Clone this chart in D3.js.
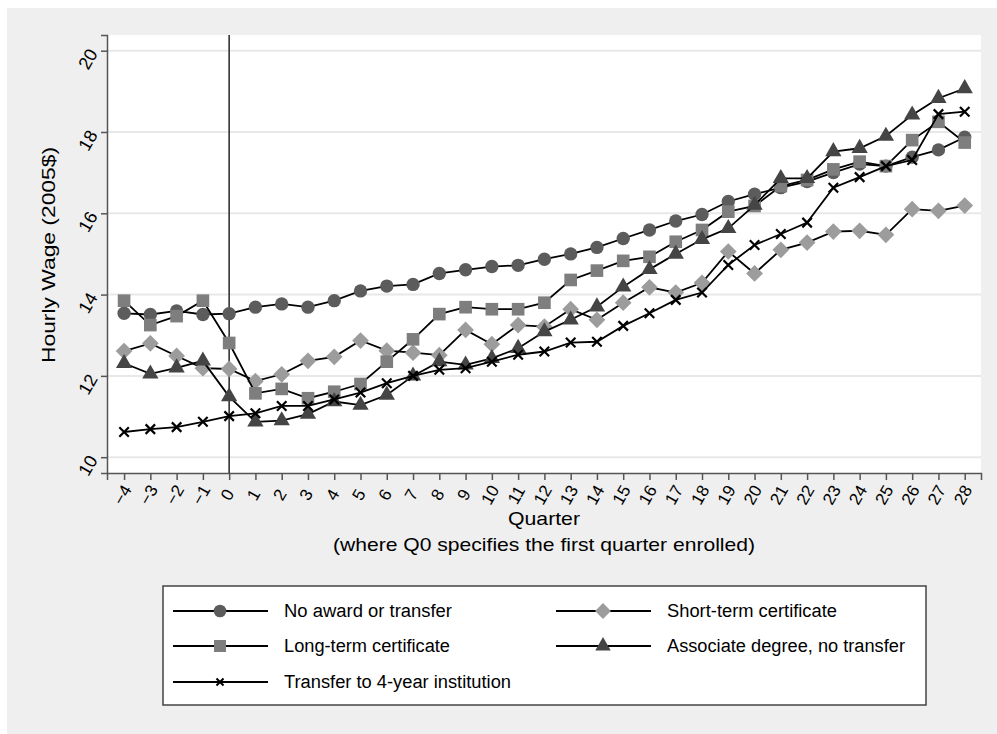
<!DOCTYPE html>
<html>
<head>
<meta charset="utf-8">
<script src="https://cdn.jsdelivr.net/npm/d3@7"></script>
<style>
  body { margin: 0; background: #fff; }
  text { font-family: "Liberation Sans", Arial, sans-serif; fill: #000; }
</style>
</head>
<body>
<svg id="vis-salarios"></svg>
<script>
// dados
const quarters = [-4, -3, -2, -1, 0, 1, 2, 3, 4, 5, 6, 7, 8, 9, 10, 11, 12, 13, 14, 15, 16, 17, 18, 19, 20, 21, 22, 23, 24, 25, 26, 27, 28];

const no_award = [13.54, 13.51, 13.60, 13.51, 13.53, 13.69, 13.77, 13.69, 13.85, 14.09, 14.21, 14.25, 14.52, 14.61, 14.69, 14.72,
                  14.87, 15.00, 15.16, 15.38, 15.59, 15.81, 15.97, 16.29, 16.47, 16.63, 16.78, 17.00, 17.21, 17.16, 17.38, 17.56, 17.87];
const short_term = [12.61, 12.80, 12.49, 12.19, 12.17, 11.87, 12.04, 12.37, 12.47, 12.87, 12.62, 12.57, 12.51, 13.13, 12.78, 13.25,
                    13.21, 13.64, 13.38, 13.80, 14.18, 14.05, 14.29, 15.06, 14.52, 15.10, 15.28, 15.55, 15.57, 15.47, 16.10, 16.06, 16.19];
const long_term = [13.85, 13.25, 13.47, 13.85, 12.81, 11.57, 11.68, 11.45, 11.61, 11.80, 12.35, 12.90, 13.52, 13.69, 13.64, 13.64,
                   13.80, 14.36, 14.59, 14.83, 14.93, 15.30, 15.59, 16.04, 16.18, 16.67, 16.82, 17.08, 17.27, 17.16, 17.80, 18.25, 17.74];
const associate = [12.31, 12.05, 12.20, 12.37, 11.49, 10.87, 10.90, 11.06, 11.37, 11.28, 11.53, 12.00, 12.35, 12.27, 12.43, 12.68,
                   13.09, 13.38, 13.70, 14.19, 14.62, 15.00, 15.36, 15.63, 16.20, 16.86, 16.86, 17.52, 17.60, 17.90, 18.42, 18.83, 19.07];
const transfer = [10.62, 10.69, 10.74, 10.87, 11.01, 11.08, 11.26, 11.26, 11.42, 11.59, 11.82, 12.00, 12.15, 12.19, 12.35, 12.52,
                  12.60, 12.82, 12.84, 13.23, 13.54, 13.87, 14.05, 14.73, 15.22, 15.49, 15.77, 16.63, 16.89, 17.16, 17.31, 18.44, 18.50];

const y_ticks = [10, 12, 14, 16, 18, 20];
const series_names = ["No award or transfer", "Short-term certificate", "Long-term certificate",
                      "Associate degree, no transfer", "Transfer to 4-year institution"];

// símbolo "x" do Stata
const symbolCross = {
  draw(ctx, size) {
    const r = Math.sqrt(size) / 2;
    ctx.moveTo(-r, -r); ctx.lineTo(r, r);
    ctx.moveTo(r, -r); ctx.lineTo(-r, r);
  }
};

// estilos de cada série
const estilos = [
  { type: d3.symbolCircle,   size: 140, fill: "#5c5c5c", rot: 0 },
  { type: d3.symbolSquare,   size: 140, fill: "#9c9c9c", rot: 45 },
  { type: d3.symbolSquare,   size: 160, fill: "#7e7e7e", rot: 0 },
  { type: d3.symbolTriangle, size: 115, fill: "#454545", rot: 0 },
  { type: symbolCross,       size: 90,  fill: "none",    rot: 0 }
];

const w = 997, h = 734;
const margin = { top: 35, bottom: 261, left: 107, right: 16 };

const $svg = d3.select('#vis-salarios')
  .attr('width', w)
  .attr('height', h);

// fundo cinza
$svg.append('rect')
  .attr('x', 7).attr('y', 8)
  .attr('width', w - 7).attr('height', h - 8)
  .attr('fill', '#efefef');

// área do gráfico
$svg.append('rect')
  .attr('x', margin.left).attr('y', margin.top)
  .attr('width', w - margin.left - margin.right)
  .attr('height', h - margin.top - margin.bottom)
  .attr('fill', '#fff');

const x = d3.scaleLinear()
  .domain([-4.65, 28.62])
  .range([margin.left, w - margin.right]);

const y = d3.scaleLinear()
  .domain([9.611, 20.386])
  .range([h - margin.bottom, margin.top]);

// grade
$svg.append('g')
  .selectAll('line')
  .data(y_ticks)
  .enter().append('line')
  .attr('x1', margin.left).attr('x2', w - margin.right)
  .attr('y1', d => y(d)).attr('y2', d => y(d))
  .attr('stroke', '#e8e8e8')
  .attr('stroke-width', 2);

// eixo y
const eixo_y = $svg.append('g')
  .attr('transform', `translate(${margin.left},0)`)
  .call(d3.axisLeft(y).tickValues(y_ticks).tickSize(6).tickFormat(d3.format('d')));
eixo_y.select('.domain').attr('stroke', '#555').attr('stroke-width', 1.5);
eixo_y.selectAll('.tick line').attr('stroke', '#555').attr('stroke-width', 1.5);
eixo_y.selectAll('.tick text')
  .attr('x', 0).attr('dy', null)
  .attr('text-anchor', 'middle')
  .attr('dominant-baseline', 'central')
  .attr('transform', 'translate(-19,8) rotate(-60)')
  .style('font-size', '18px')
  .style('font-family', '"Liberation Sans", Arial, sans-serif');

// eixo x
const eixo_x = $svg.append('g')
  .attr('transform', `translate(0,${h - margin.bottom})`)
  .call(d3.axisBottom(x).tickValues(quarters).tickSize(7).tickFormat(d3.format('d')));
eixo_x.select('.domain').attr('stroke', '#555').attr('stroke-width', 1.5);
eixo_x.selectAll('.tick line').attr('stroke', '#555').attr('stroke-width', 1.5);
eixo_x.selectAll('.tick text')
  .attr('y', 0).attr('dy', null)
  .attr('text-anchor', 'middle')
  .attr('dominant-baseline', 'central')
  .attr('transform', 'translate(-2,22) rotate(-60)')
  .style('font-size', '17px')
  .style('font-family', '"Liberation Sans", Arial, sans-serif');

// linha vertical em Q0
$svg.append('line')
  .attr('x1', x(0)).attr('x2', x(0))
  .attr('y1', margin.top).attr('y2', h - margin.bottom)
  .attr('stroke', '#333')
  .attr('stroke-width', 1.6);

// séries
const todas = [no_award, short_term, long_term, associate, transfer];

const linha = d3.line()
  .x((d, i) => x(quarters[i]))
  .y(d => y(d));

todas.forEach(function(serie, k) {
  const est = estilos[k];
  const g = $svg.append('g');
  g.append('path')
    .datum(serie)
    .attr('d', linha)
    .attr('fill', 'none')
    .attr('stroke', '#000')
    .attr('stroke-width', 1.8);
  g.selectAll('path.ponto')
    .data(serie)
    .enter().append('path')
    .attr('class', 'ponto')
    .attr('d', d3.symbol().type(est.type).size(est.size))
    .attr('transform', (d, i) => `translate(${x(quarters[i])},${y(d)}) rotate(${est.rot})`)
    .attr('fill', est.fill)
    .attr('stroke', est.fill == 'none' ? '#000' : 'none')
    .attr('stroke-width', 2.2);
});

// títulos dos eixos
$svg.append('text')
  .attr('x', 544).attr('y', 525)
  .attr('text-anchor', 'middle')
  .attr('textLength', 72)
  .attr('lengthAdjust', 'spacingAndGlyphs')
  .style('font-size', '19px')
  .text('Quarter');
$svg.append('text')
  .attr('x', 544).attr('y', 551)
  .attr('text-anchor', 'middle')
  .attr('textLength', 422)
  .attr('lengthAdjust', 'spacingAndGlyphs')
  .style('font-size', '19px')
  .text('(where Q0 specifies the first quarter enrolled)');
$svg.append('text')
  .attr('transform', 'translate(55,255) rotate(-90)')
  .attr('text-anchor', 'middle')
  .attr('textLength', 216)
  .attr('lengthAdjust', 'spacingAndGlyphs')
  .style('font-size', '19px')
  .text('Hourly Wage (2005$)');

// legenda
$svg.append('rect')
  .attr('x', 163).attr('y', 586)
  .attr('width', 763).attr('height', 119)
  .attr('fill', '#fff')
  .attr('stroke', '#444')
  .attr('stroke-width', 1.5);

const leg_pos = [
  { x: 173, y: 611 }, { x: 556, y: 611 },
  { x: 173, y: 646 }, { x: 556, y: 646 },
  { x: 173, y: 682 }
];
const leg_larg = [168, 170, 166, 238, 227];

series_names.forEach(function(nome, k) {
  const p = leg_pos[k];
  const est = estilos[k];
  const g = $svg.append('g').attr('transform', `translate(${p.x},${p.y})`);
  g.append('line')
    .attr('x1', 0).attr('x2', 95)
    .attr('stroke', '#000').attr('stroke-width', 2);
  g.append('path')
    .attr('d', d3.symbol().type(est.type).size(est.size * (k == 4 ? 0.55 : 0.9)))
    .attr('transform', `translate(47,0) rotate(${est.rot})`)
    .attr('fill', est.fill)
    .attr('stroke', est.fill == 'none' ? '#000' : 'none')
    .attr('stroke-width', 2);
  g.append('text')
    .attr('x', 111).attr('y', 6)
    .attr('textLength', leg_larg[k])
    .attr('lengthAdjust', 'spacingAndGlyphs')
    .style('font-size', '18px')
    .text(nome);
});
</script>
</body>
</html>
